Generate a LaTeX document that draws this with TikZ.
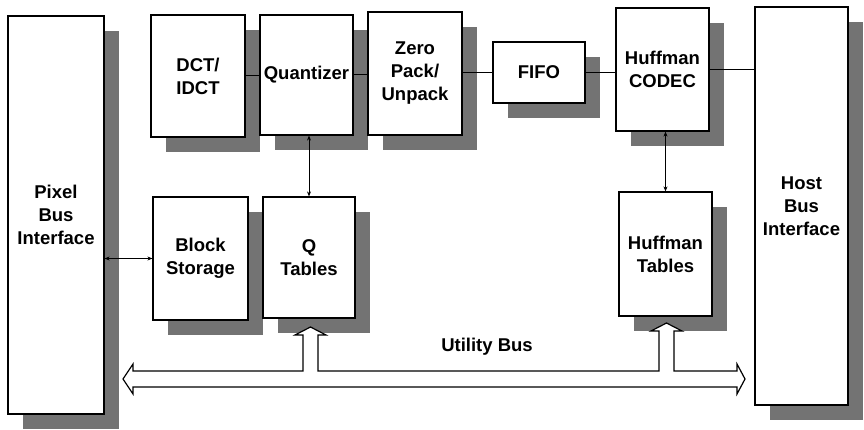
\documentclass[tikz,border=0pt]{standalone}
\usepackage{fontspec}
\setmainfont{Liberation Sans}
\usetikzlibrary{shadows,arrows.meta}

\tikzset{
  block/.style={draw, line width=1.2pt, fill=white, align=center, inner sep=0pt,
    font=\fontsize{18.5}{23}\selectfont\bfseries,
    drop shadow={shadow xshift=15pt, shadow yshift=-15pt, fill=black!55, opacity=1}},
  link/.style={line width=1pt},
  tip/.style={line width=1pt, {Stealth[length=5pt,width=4pt]}-{Stealth[length=5pt,width=4pt]}},
  bus/.style={line width=1.2pt, fill=white, line join=miter}
}

\begin{document}
\begin{tikzpicture}[x=1pt, y=-1pt]
\useasboundingbox (0,0) rectangle (864,430);
% Interfaces on both sides
\node[block, minimum width=96pt, minimum height=398pt] (pix) at (56,215) {Pixel\\Bus\\Interface};
\node[block, minimum width=93pt, minimum height=398pt] (host) at (801.5,206) {Host\\Bus\\Interface};
% Top row of the pipeline
\node[block, minimum width=94pt, minimum height=122pt] (dct) at (198,76) {DCT/\\IDCT};
\node[block, minimum width=93pt, minimum height=120pt] (quant) at (306.5,75) {Quantizer};
\node[block, minimum width=94pt, minimum height=123pt] (zero) at (415,73.5) {Zero\\Pack/\\Unpack};
\node[block, minimum width=92pt, minimum height=61pt] (fifo) at (539,72.5) {FIFO};
\node[block, minimum width=93pt, minimum height=123pt] (huff) at (662.5,69.5) {Huffman\\CODEC};
% Storage and tables
\node[block, minimum width=95pt, minimum height=123pt] (store) at (200.5,258.5) {Block\\Storage};
\node[block, minimum width=92pt, minimum height=121pt] (qtab) at (309,257.5) {Q\\Tables};
\node[block, minimum width=93pt, minimum height=124pt] (htab) at (665.5,254) {Huffman\\Tables};
% Data path
\draw[link] (dct.east) -- (dct.east -| quant.west);
\draw[link] (quant.east) -- (quant.east -| zero.west);
\draw[link] (zero.east |- fifo.west) -- (fifo.west);
\draw[link] (fifo.east) -- (fifo.east -| huff.west);
\draw[link] (huff.east) -- (huff.east -| host.west);
% Table access
\draw[tip] (qtab.north |- quant.south) -- (qtab.north);
\draw[tip] (htab.north |- huff.south) -- (htab.north);
\draw[tip] (store.west -| pix.east) -- (store.west);
% Utility bus
\draw[bus] (123,379) -- (133,364) -- (133,371) -- (303,371) -- (303,335) -- (295,335)
  -- (310.5,327) -- (326,335) -- (318,335) -- (318,371) -- (659,371) -- (659,331)
  -- (651,331) -- (666.5,323) -- (682,331) -- (674,331) -- (674,371) -- (737,371)
  -- (737,364) -- (745,379) -- (737,394) -- (737,387) -- (133,387) -- (133,394) -- cycle;
\node[font=\fontsize{18.5}{23}\selectfont\bfseries] (buslabel) at (487,347) {Utility Bus};
\end{tikzpicture}
\end{document}
